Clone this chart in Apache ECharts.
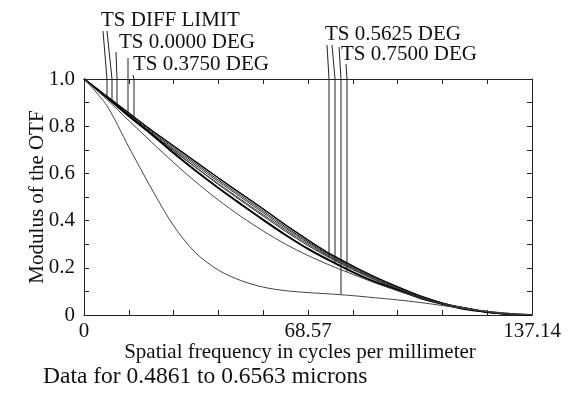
<!DOCTYPE html>
<html>
<head>
<meta charset="utf-8">
<script src="https://cdn.jsdelivr.net/npm/echarts@6/dist/echarts.min.js"></script>
<style>
  html, body { margin: 0; padding: 0; background: #fff; }
  #chart { width: 570px; height: 398px; }
</style>
</head>
<body>
<div id="chart"></div>
<script>
// spatial frequency (cycles/mm) sample points
const freq = [0, 6.86, 13.71, 20.57, 27.43, 34.29, 41.14, 48.0, 54.86, 61.71, 68.57,
  75.43, 82.29, 89.14, 96.0, 102.86, 109.71, 116.57, 123.43, 130.29, 137.14];

// modulus of the OTF
const diffLimit = [1.0, 0.928, 0.856, 0.784, 0.716, 0.648, 0.581, 0.515, 0.449, 0.381, 0.318,
  0.258, 0.208, 0.161, 0.119, 0.081, 0.051, 0.030, 0.013, 0.004, 0];
const deg0000 = [1.0, 0.925, 0.850, 0.777, 0.708, 0.640, 0.572, 0.506, 0.440, 0.373, 0.311,
  0.252, 0.203, 0.157, 0.116, 0.079, 0.049, 0.029, 0.012, 0.004, 0];
const deg0375S = [1.0, 0.923, 0.846, 0.772, 0.702, 0.633, 0.565, 0.499, 0.433, 0.367, 0.306,
  0.248, 0.200, 0.154, 0.114, 0.077, 0.048, 0.028, 0.012, 0.003, 0];
const deg0375T = [1.0, 0.921, 0.842, 0.766, 0.695, 0.625, 0.556, 0.490, 0.425, 0.360, 0.300,
  0.244, 0.196, 0.151, 0.112, 0.076, 0.047, 0.027, 0.011, 0.003, 0];
const deg05625S = [1.0, 0.925, 0.847, 0.771, 0.697, 0.624, 0.553, 0.485, 0.419, 0.354, 0.294,
  0.240, 0.192, 0.148, 0.109, 0.074, 0.046, 0.027, 0.012, 0.003, 0];
const deg05625T = [1.0, 0.924, 0.843, 0.767, 0.686, 0.610, 0.538, 0.470, 0.403, 0.339, 0.280,
  0.229, 0.182, 0.140, 0.106, 0.072, 0.047, 0.025, 0.013, 0.004, 0];
const deg0750S = [1.0, 0.915, 0.824, 0.734, 0.646, 0.563, 0.487, 0.418, 0.356, 0.300, 0.252,
  0.210, 0.172, 0.136, 0.103, 0.073, 0.048, 0.030, 0.014, 0.004, 0];
const deg0750T = [1.0, 0.890, 0.712, 0.538, 0.378, 0.262, 0.190, 0.146, 0.118, 0.103, 0.095,
  0.089, 0.082, 0.073, 0.064, 0.053, 0.040, 0.027, 0.016, 0.007, 0];

const xTickValues = [0, 68.57, 137.14];
const xTickLabels = ['0', '68.57', '137.14'];
const yTickLabels = ['0', '0.2', '0.4', '0.6', '0.8', '1.0'];

const fieldLabels = ['TS DIFF LIMIT', 'TS 0.0000 DEG', 'TS 0.3750 DEG', 'TS 0.5625 DEG', 'TS 0.7500 DEG'];
// frequency where each leader line meets its curve
const leaderFreq = [7.04, 8.57, 10.10, 13.47, 15.31, 75.0, 76.84, 78.67, 80.5];
const leaderCurve = ['diffLimit', 'diffLimit', 'deg0000', 'deg0375S', 'deg0375T',
  'deg05625S', 'deg05625T', 'deg0750T', 'deg0750S'];

const curves = { diffLimit, deg0000, deg0375S, deg0375T, deg05625S, deg05625T, deg0750S, deg0750T };

const FONT = '"Liberation Serif", "Times New Roman", serif';
const INK = '#111';

const chart = echarts.init(document.getElementById('chart'), null, { renderer: 'canvas' });

function pairs(arr) {
  return freq.map((f, i) => [f, arr[i]]);
}

function lineSeries(name, arr, width, color) {
  return {
    name: name,
    type: 'line',
    data: pairs(arr),
    showSymbol: false,
    smooth: 0.3,
    silent: true,
    lineStyle: { width: width, color: color }
  };
}

const frameAxisLine = { show: true, onZero: false, lineStyle: { color: '#222', width: 1 } };
const frameTick = { show: true, inside: true, length: 5, lineStyle: { color: '#222' } };

chart.setOption({
  backgroundColor: '#fff',
  animation: false,
  grid: { left: 84, right: 38, top: 79, bottom: 83, containLabel: false },
  xAxis: [
    {
      type: 'value', min: 0, max: 137.14, interval: 13.714, position: 'bottom',
      axisLine: frameAxisLine, axisTick: frameTick, splitLine: { show: false },
      axisLabel: {
        showMinLabel: true, showMaxLabel: true, margin: 6,
        color: INK, fontFamily: FONT, fontSize: 21,
        formatter: function (v) {
          const k = xTickValues.findIndex(t => Math.abs(t - v) < 0.01);
          return k >= 0 ? xTickLabels[k] : '';
        }
      },
      name: 'Spatial frequency in cycles per millimeter',
      nameLocation: 'middle', nameGap: 27, nameMoveOverlap: false,
      nameTextStyle: { color: INK, fontFamily: FONT, fontSize: 21, padding: [0, 16, 0, 0] }
    },
    {
      type: 'value', min: 0, max: 137.14, interval: 13.714, position: 'top',
      axisLine: frameAxisLine, axisTick: frameTick, splitLine: { show: false },
      axisLabel: { show: false }
    }
  ],
  yAxis: [
    {
      type: 'value', min: 0, max: 1, interval: 0.1, position: 'left',
      axisLine: frameAxisLine, axisTick: frameTick, splitLine: { show: false },
      axisLabel: {
        margin: 9, color: INK, fontFamily: FONT, fontSize: 21,
        formatter: function (v) {
          const k = Math.round(v * 10);
          return k % 2 === 0 ? yTickLabels[k / 2] : '';
        }
      },
      name: 'Modulus of the OTF',
      nameLocation: 'middle', nameGap: 36, nameMoveOverlap: false,
      nameTextStyle: { color: INK, fontFamily: FONT, fontSize: 21 }
    },
    {
      type: 'value', min: 0, max: 1, interval: 0.1, position: 'right',
      axisLine: frameAxisLine, axisTick: frameTick, splitLine: { show: false },
      axisLabel: { show: false }
    }
  ],
  series: [
    lineSeries('TS DIFF LIMIT T', diffLimit, 1.2, '#111'),
    lineSeries('TS DIFF LIMIT S', diffLimit, 1.2, '#111'),
    lineSeries('TS 0.0000 DEG', deg0000, 1, '#222'),
    lineSeries('TS 0.3750 DEG S', deg0375S, 1, '#333'),
    lineSeries('TS 0.3750 DEG T', deg0375T, 1, '#333'),
    lineSeries('TS 0.5625 DEG S', deg05625S, 1, '#333'),
    lineSeries('TS 0.5625 DEG T', deg05625T, 2, '#000'),
    lineSeries('TS 0.7500 DEG S', deg0750S, 1, '#444'),
    lineSeries('TS 0.7500 DEG T', deg0750T, 1, '#444')
  ]
});

// value of a curve at frequency f (for placing the leader ends)
function curveAt(arr, f) {
  for (let i = 1; i < freq.length; i++) {
    if (f <= freq[i]) {
      const t = (f - freq[i - 1]) / (freq[i] - freq[i - 1]);
      return arr[i - 1] + t * (arr[i] - arr[i - 1]);
    }
  }
  return arr[arr.length - 1];
}

// label placement (pixels)
const labelPos = [[101, 20], [119, 42], [133, 64], [325, 34], [341, 54]];
const leaderStart = [[103, 31], [107, 31], [116, 52], [128, 58], [133, 75],
  [327, 45], [332, 45], [339, 47], [346, 64]];

const plotTop = 79;
const graphic = [];
fieldLabels.forEach((txt, i) => {
  graphic.push({
    type: 'text', x: labelPos[i][0], y: labelPos[i][1], silent: true,
    style: { text: txt, fill: INK, font: '21px ' + FONT, verticalAlign: 'middle' }
  });
});
leaderFreq.forEach((f, i) => {
  const v = curveAt(curves[leaderCurve[i]], f);
  const p = chart.convertToPixel({ gridIndex: 0 }, [f, v]);
  const s = leaderStart[i];
  graphic.push({
    type: 'polyline', silent: true,
    shape: { points: [[s[0], s[1]], [p[0], plotTop], [p[0], p[1]]] },
    style: { stroke: '#222', lineWidth: 1, fill: null }
  });
});
graphic.push({
  type: 'text', x: 43, y: 377, silent: true,
  style: { text: 'Data for 0.4861 to 0.6563 microns', fill: INK, font: '23.5px ' + FONT, verticalAlign: 'middle' }
});

chart.setOption({ graphic: graphic });
</script>
</body>
</html>
